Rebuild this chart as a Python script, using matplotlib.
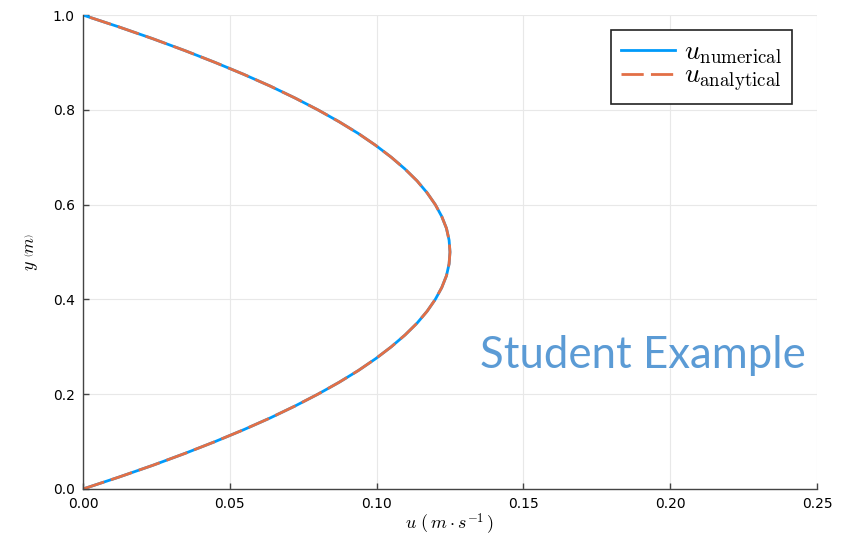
import numpy as np
import matplotlib.pyplot as plt

# velocity profile (y in m, u in m/s)
y_vals = [0.0, 0.025, 0.05, 0.075, 0.1, 0.125, 0.15, 0.175, 0.2, 0.225, 0.25,
          0.275, 0.3, 0.325, 0.35, 0.375, 0.4, 0.425, 0.45, 0.475, 0.5,
          0.525, 0.55, 0.575, 0.6, 0.625, 0.65, 0.675, 0.7, 0.725, 0.75,
          0.775, 0.8, 0.825, 0.85, 0.875, 0.9, 0.925, 0.95, 0.975, 1.0]
u_numerical = [0.0, 0.0122, 0.0238, 0.0347, 0.045, 0.0547, 0.0638, 0.0722, 0.08, 0.0872, 0.0938,
               0.0997, 0.105, 0.1097, 0.1138, 0.1172, 0.12, 0.1222, 0.1238, 0.1247, 0.125,
               0.1247, 0.1238, 0.1222, 0.12, 0.1172, 0.1138, 0.1097, 0.105, 0.0997, 0.0938,
               0.0872, 0.08, 0.0722, 0.0638, 0.0547, 0.045, 0.0347, 0.0238, 0.0122, 0.0]
u_analytical = list(u_numerical)

x_ticks = [0.0, 0.05, 0.10, 0.15, 0.20, 0.25]
y_ticks = [0.0, 0.2, 0.4, 0.6, 0.8, 1.0]

plt.rcParams['mathtext.fontset'] = 'cm'

fig = plt.figure(figsize=(8.44, 5.37), dpi=100)
ax = fig.add_axes([0.0983, 0.0894, 0.8697, 0.8826])

ax.plot(u_numerical, y_vals, color='#009AFA', lw=2.0, label=r'$u_{\mathrm{numerical}}$')
ax.plot(u_analytical, y_vals, color='#E26F46', lw=2.0, dashes=(8, 2.6),
        label=r'$u_{\mathrm{analytical}}$')

ax.set_xlim(0, 0.25)
ax.set_ylim(0, 1.0)
ax.set_xticks(x_ticks)
ax.set_yticks(y_ticks)
ax.set_xticklabels(['0.00', '0.05', '0.10', '0.15', '0.20', '0.25'])
ax.set_yticklabels(['0.0', '0.2', '0.4', '0.6', '0.8', '1.0'])
ax.tick_params(direction='in', length=4, width=1, color='#444444', labelsize=10, pad=6)
ax.grid(True, color='#e8e8e8', lw=0.8)
ax.set_axisbelow(True)
for s in ['top', 'right']:
    ax.spines[s].set_visible(False)
for s in ['left', 'bottom']:
    ax.spines[s].set_color('#444444')
    ax.spines[s].set_linewidth(1)

ax.set_xlabel(r'$u\ (\,m \cdot s^{-1}\,)$', fontsize=13, labelpad=0.5)
ax.set_ylabel(r'$y\ \left(m\right)$', fontsize=13, labelpad=9)

leg = ax.legend(loc='upper right', bbox_to_anchor=(0.966, 0.968), borderaxespad=0,
                fontsize=19.5, fancybox=False, edgecolor='#222222', framealpha=1,
                handlelength=2.0, labelspacing=-0.1, borderpad=0.35, handletextpad=0.35)
leg.get_frame().set_linewidth(1.2)

fig.text(0.955, 0.338, 'Student Example', color='#5B9BD5', fontsize=31.5,
         family=['Lato', 'DejaVu Sans'], ha='right', va='center')

fig.savefig('out.png', dpi=100)
